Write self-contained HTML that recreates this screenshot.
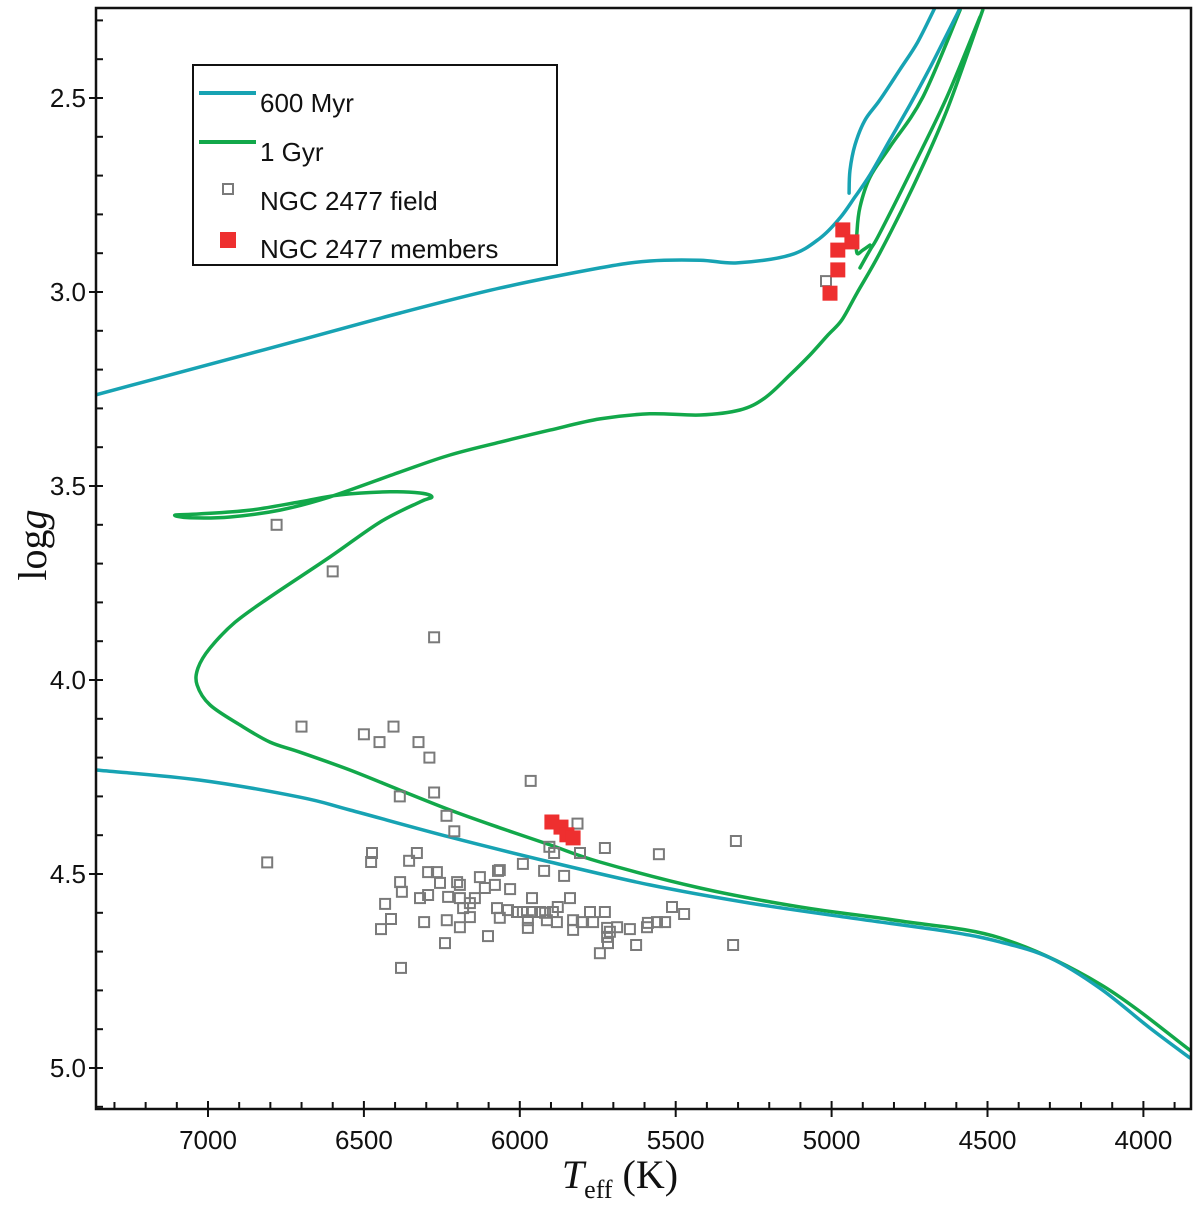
<!DOCTYPE html>
<html><head><meta charset="utf-8"><style>
html,body{margin:0;padding:0;background:#fff;}
svg{display:block;}
</style></head><body>
<svg id="chart" width="1200" height="1215" viewBox="0 0 1200 1215" xmlns="http://www.w3.org/2000/svg">
<defs><clipPath id="plotclip"><rect x="96" y="8" width="1095" height="1101"/></clipPath></defs>
<g id="marks" clip-path="url(#plotclip)"></g>
<g id="axes"></g>
</svg>
<script>
// ---- data ----
const xMajorTicks = [7000, 6500, 6000, 5500, 5000, 4500, 4000];
const xTickLabels = ["7000", "6500", "6000", "5500", "5000", "4500", "4000"];
const yMajorTicks = [2.5, 3.0, 3.5, 4.0, 4.5, 5.0];
const yTickLabels = ["2.5", "3.0", "3.5", "4.0", "4.5", "5.0"];

const cyanUpperT = [7359,7026,6705,6384,6064,5743,5583,5422,5303,5133,5037,4973,4925,4877,4813,4749,4685,4636,4604,4588];
const cyanUpperG = [3.265,3.193,3.124,3.054,2.990,2.938,2.920,2.918,2.925,2.905,2.861,2.809,2.755,2.698,2.608,2.518,2.423,2.345,2.294,2.268];
const cyanHookT = [4944,4941,4925,4893,4845,4782,4724,4669];
const cyanHookG = [2.745,2.686,2.621,2.557,2.505,2.428,2.356,2.268];
const cyanLowerT = [7359,7026,6705,6545,6224,5903,5583,5262,4941,4621,4460,4300,4140,3979,3851];
const cyanLowerG = [4.232,4.258,4.302,4.335,4.405,4.469,4.528,4.575,4.613,4.649,4.675,4.716,4.794,4.897,4.974];

const greenMainT = [3851,4139,4459,4781,5101,5422,5743,5903,6064,6224,6384,6545,6705,6801,6897,6994,7035,7032,6994,6913,6801,6609,6448,6320,6282,6320,6416,6577,6705,6865,7026,7106,7058,6929,6769,6609,6384,6224,6064,5903,5743,5583,5422,5294,5214,5134,5069,5012,4967,4919,4845,4739,4630,4515];
const greenMainG = [4.954,4.784,4.665,4.621,4.585,4.536,4.469,4.425,4.381,4.335,4.284,4.232,4.186,4.160,4.116,4.064,4.013,3.969,3.918,3.851,3.786,3.683,3.593,3.541,3.528,3.518,3.515,3.523,3.541,3.562,3.572,3.575,3.582,3.580,3.562,3.528,3.464,3.420,3.387,3.356,3.327,3.314,3.317,3.304,3.273,3.214,3.162,3.111,3.072,3.003,2.899,2.729,2.531,2.273];
const greenBranchAT = [4588,4707,4813,4877,4909,4919,4919,4900,4877];
const greenBranchAG = [2.273,2.497,2.626,2.704,2.781,2.848,2.899,2.892,2.879];
const greenBranchBT = [4909,4877,4845,4739,4630,4524];
const greenBranchBG = [2.938,2.892,2.848,2.678,2.497,2.291];

const fieldT = [6780,6600,6275,6700,6500,6450,6405,6325,6290,6385,6275,5965,6235,6210,6810,5815,5905,5890,5807,5727,5554,5307,5990,5922,5858,5316,5512,5473,5627,5743,5018,
6474,6477,6330,6355,6384,6378,6432,6413,6445,6307,6234,6192,6240,6102,6381,6294,6266,6294,6320,6256,6230,6201,6192,6192,6160,6182,6160,6128,6070,6112,6080,6031,6144,6073,6064,6038,6009,5961,5990,5961,5974,5974,5935,5913,5894,5881,
5839,5878,5919,5829,5775,5727,5801,5765,5720,5688,5647,5589,5560,5534,5829,5720,5717,5592,5711,6064];
const fieldG = [3.60,3.72,3.89,4.12,4.14,4.16,4.12,4.16,4.20,4.30,4.29,4.26,4.35,4.39,4.47,4.37,4.43,4.446,4.446,4.433,4.449,4.415,4.474,4.492,4.505,4.683,4.585,4.603,4.683,4.704,2.972,
4.446,4.469,4.446,4.466,4.521,4.546,4.577,4.616,4.642,4.624,4.619,4.637,4.678,4.660,4.742,4.495,4.495,4.554,4.562,4.523,4.559,4.521,4.528,4.562,4.575,4.588,4.611,4.508,4.492,4.536,4.528,4.539,4.562,4.588,4.613,4.593,4.598,4.562,4.598,4.598,4.619,4.639,4.598,4.619,4.598,4.624,
4.562,4.585,4.600,4.619,4.598,4.598,4.624,4.624,4.639,4.637,4.642,4.626,4.624,4.624,4.644,4.662,4.678,4.637,4.649,4.490];
const memberT = [5897,5868,5849,5829,4964,4935,4980,4980,5005];
const memberG = [4.366,4.379,4.399,4.407,2.840,2.871,2.892,2.943,3.003];

// ---- scales ----
const X0 = 208, XK = 0.3118, Y0 = 98, YK = 388;
function sx(t){ return X0 + (7000 - t) * XK; }
function sy(g){ return Y0 + (g - 2.5) * YK; }
const NS = "http://www.w3.org/2000/svg";
const marks = document.getElementById('marks');
const axes = document.getElementById('axes');
function mk(tag, parent){ const e = document.createElementNS(NS, tag); parent.appendChild(e); return e; }

function smoothPath(pts){
  let d = 'M' + pts[0][0].toFixed(1) + ',' + pts[0][1].toFixed(1);
  for(let i=0;i<pts.length-1;i++){
    const p0 = pts[Math.max(0,i-1)], p1 = pts[i], p2 = pts[i+1], p3 = pts[Math.min(pts.length-1,i+2)];
    const c1x = p1[0] + (p2[0]-p0[0])/6, c1y = p1[1] + (p2[1]-p0[1])/6;
    const c2x = p2[0] - (p3[0]-p1[0])/6, c2y = p2[1] - (p3[1]-p1[1])/6;
    d += ' C' + c1x.toFixed(1)+','+c1y.toFixed(1)+' '+c2x.toFixed(1)+','+c2y.toFixed(1)+' '+p2[0].toFixed(1)+','+p2[1].toFixed(1);
  }
  return d;
}
function drawLine(T, G, color, name){
  const p = mk('path', marks);
  p.setAttribute('d', smoothPath(T.map((t,i)=>[sx(t), sy(G[i])])));
  p.setAttribute('fill','none'); p.setAttribute('stroke',color); p.setAttribute('stroke-width','3.5');
  p.setAttribute('stroke-linejoin','round'); p.setAttribute('stroke-linecap','round');
  
  
}
const CYAN = '#17a3b3', GREEN = '#12a84a';
drawLine(greenMainT, greenMainG, GREEN, 'isochrone-1gyr');
drawLine(greenBranchAT, greenBranchAG, GREEN, 'isochrone-1gyr-branch-a');
drawLine(greenBranchBT, greenBranchBG, GREEN, 'isochrone-1gyr-branch-b');
drawLine(cyanLowerT, cyanLowerG, CYAN, 'isochrone-600myr-ms');
drawLine(cyanUpperT, cyanUpperG, CYAN, 'isochrone-600myr-giant');
drawLine(cyanHookT, cyanHookG, CYAN, 'isochrone-600myr-hook');

fieldT.forEach((t,i)=>{
  const r = mk('rect', marks);
  r.setAttribute('x', (sx(t)-5).toFixed(1)); r.setAttribute('y', (sy(fieldG[i])-5).toFixed(1));
  r.setAttribute('width','10'); r.setAttribute('height','10');
  r.setAttribute('fill','none'); r.setAttribute('stroke','#7a7a7a'); r.setAttribute('stroke-width','2');
  
  
});
memberT.forEach((t,i)=>{
  const r = mk('rect', marks);
  r.setAttribute('x', (sx(t)-7.5).toFixed(1)); r.setAttribute('y', (sy(memberG[i])-7.5).toFixed(1));
  r.setAttribute('width','15'); r.setAttribute('height','15');
  r.setAttribute('fill','#ee2f2f');
  
  
});

// ---- axes ----
const L=96, R=1191, TOP=8, B=1109;
const frame = mk('rect', axes);
frame.setAttribute('x',L); frame.setAttribute('y',TOP); frame.setAttribute('width',R-L); frame.setAttribute('height',B-TOP);
frame.setAttribute('fill','none'); frame.setAttribute('stroke','#111'); frame.setAttribute('stroke-width','2.5');


function tick(x1,y1,x2,y2,name){
  const l = mk('line', axes);
  l.setAttribute('x1',x1); l.setAttribute('y1',y1); l.setAttribute('x2',x2); l.setAttribute('y2',y2);
  l.setAttribute('stroke','#111'); l.setAttribute('stroke-width','2');
  
  
}
for(let t=3900; t<=7300; t+=100){
  const x = sx(t); if(x<L+2||x>R-2) continue;
  if(t%500===0) tick(x,B-8,x,B+8,'x-major-tick'); else tick(x,B-7,x,B,'x-minor-tick');
}
for(let k=23; k<=51; k++){
  const g=k/10, y=sy(g); if(y<TOP+2||y>B-2) continue;
  if(k%5===0) tick(L-7,y,L+7,y,'y-major-tick'); else tick(L,y,L+7,y,'y-minor-tick');
}
function txt(x,y,s,size,anchor,name,family){
  const e = mk('text', axes);
  e.setAttribute('x',x); e.setAttribute('y',y); e.setAttribute('font-size',size);
  e.setAttribute('text-anchor',anchor); e.setAttribute('fill','#111');
  e.setAttribute('font-family', family || '"Liberation Sans", Arial, sans-serif');
  e.textContent = s;
  
  
  return e;
}
xMajorTicks.forEach((t,i)=> txt(sx(t), 1149, xTickLabels[i], 26, 'middle', 'x-tick-label'));
yMajorTicks.forEach((g,i)=> txt(86, sy(g)+9, yTickLabels[i], 26, 'end', 'y-tick-label'));

const xt = txt(620, 1188, '', 40, 'middle', 'x-axis-title', '"Liberation Serif", serif');
xt.innerHTML = '<tspan font-style="italic">T</tspan><tspan font-size="26" dy="10">eff</tspan><tspan dy="-10"> (K)</tspan>';
const yt = txt(0, 0, '', 40, 'middle', 'y-axis-title', '"Liberation Serif", serif');
yt.setAttribute('transform','translate(46,545) rotate(-90)');
yt.innerHTML = 'log<tspan font-style="italic">g</tspan>';

const lg = mk('g', axes);


const lb = mk('rect', lg);
lb.setAttribute('x',193); lb.setAttribute('y',65); lb.setAttribute('width',364); lb.setAttribute('height',200);
lb.setAttribute('fill','#fff'); lb.setAttribute('stroke','#111'); lb.setAttribute('stroke-width','2');


function legLine(y,color,name){
  const l = mk('line', lg);
  l.setAttribute('x1',199); l.setAttribute('x2',256); l.setAttribute('y1',y); l.setAttribute('y2',y);
  l.setAttribute('stroke',color); l.setAttribute('stroke-width','4');
  
  
}
legLine(93, CYAN, 'legend-swatch-600myr');
legLine(142, GREEN, 'legend-swatch-1gyr');
const fs = mk('rect', lg);
fs.setAttribute('x',223); fs.setAttribute('y',184); fs.setAttribute('width',10); fs.setAttribute('height',10);
fs.setAttribute('fill','none'); fs.setAttribute('stroke','#7a7a7a'); fs.setAttribute('stroke-width','2');


const ms = mk('rect', lg);
ms.setAttribute('x',220); ms.setAttribute('y',232); ms.setAttribute('width',16); ms.setAttribute('height',16);
ms.setAttribute('fill','#ee2f2f');


txt(260, 112, '600 Myr', 26, 'start', 'legend-label-600myr');
txt(260, 161, '1 Gyr', 26, 'start', 'legend-label-1gyr');
txt(260, 210, 'NGC 2477 field', 26, 'start', 'legend-label-field');
txt(260, 258, 'NGC 2477 members', 26, 'start', 'legend-label-members');
</script>
</body></html>
